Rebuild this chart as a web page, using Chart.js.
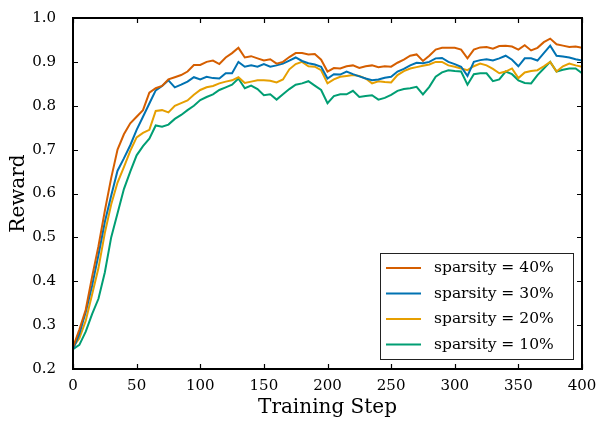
<!DOCTYPE html>
<html>
<head>
<meta charset="utf-8">
<script src="https://cdn.jsdelivr.net/npm/chart.js@4/dist/chart.umd.min.js"></script>
<style>
  html, body { margin:0; padding:0; background:#fff; }
  #wrap { width:598px; height:421px; }
</style>
</head>
<body>
<div id="wrap"><canvas id="chart" width="598" height="421"></canvas></div>
<script>
// Data (every 5 training steps)
const steps = [];
for (let s = 0; s <= 400; s += 5) steps.push(s);

const labels = ['sparsity = 40%', 'sparsity = 30%', 'sparsity = 20%', 'sparsity = 10%'];
const colors = ['#D55E00', '#0072B2', '#E69F00', '#009E73'];

const sparsity40 = [
    0.25, 0.29, 0.335, 0.41, 0.48, 0.56, 0.635, 0.70, 0.735, 0.76,
    0.775, 0.79, 0.83, 0.84, 0.845, 0.86, 0.865, 0.87, 0.878, 0.893,
    0.893, 0.90, 0.903, 0.895, 0.91, 0.92, 0.932, 0.91, 0.913, 0.908,
    0.903, 0.906, 0.896, 0.90, 0.911, 0.92, 0.92, 0.917, 0.918, 0.905,
    0.878, 0.886, 0.885, 0.89, 0.892, 0.886, 0.89, 0.892, 0.888, 0.89,
    0.889, 0.898, 0.905, 0.914, 0.917, 0.902, 0.914, 0.928, 0.932, 0.932,
    0.932, 0.928, 0.908, 0.928, 0.933, 0.934, 0.93, 0.936, 0.937, 0.935,
    0.928, 0.938, 0.926, 0.932, 0.945, 0.953, 0.94, 0.937, 0.934, 0.935,
    0.932
];
const sparsity30 = [
    0.245, 0.28, 0.33, 0.39, 0.46, 0.535, 0.595, 0.652, 0.68, 0.71,
    0.745, 0.775, 0.805, 0.835, 0.845, 0.858, 0.842, 0.848, 0.855, 0.865,
    0.86, 0.866, 0.863, 0.862, 0.874, 0.874, 0.90, 0.889, 0.892, 0.889,
    0.895, 0.889, 0.892, 0.896, 0.903, 0.91, 0.902, 0.897, 0.894, 0.889,
    0.862, 0.872, 0.871, 0.878, 0.872, 0.867, 0.862, 0.858, 0.86, 0.864,
    0.866, 0.878, 0.884, 0.892, 0.898, 0.897, 0.90, 0.908, 0.909, 0.90,
    0.895, 0.889, 0.868, 0.90, 0.904, 0.906, 0.903, 0.908, 0.914, 0.905,
    0.89, 0.908, 0.908, 0.903, 0.92, 0.937, 0.914, 0.912, 0.91, 0.906,
    0.903
];
const sparsity20 = [
    0.25, 0.27, 0.31, 0.37, 0.43, 0.51, 0.575, 0.625, 0.66, 0.697,
    0.728, 0.738, 0.745, 0.788, 0.79, 0.785, 0.80, 0.806, 0.812, 0.825,
    0.836, 0.842, 0.845, 0.851, 0.855, 0.858, 0.865, 0.852, 0.855, 0.858,
    0.858, 0.857, 0.853, 0.86, 0.883, 0.895, 0.90, 0.89, 0.889, 0.881,
    0.851, 0.86, 0.866, 0.868, 0.87, 0.868, 0.862, 0.851, 0.856, 0.854,
    0.853, 0.87, 0.879, 0.885, 0.888, 0.891, 0.894, 0.90, 0.90, 0.892,
    0.889, 0.885, 0.881, 0.89, 0.896, 0.892, 0.884, 0.874, 0.878, 0.885,
    0.863, 0.876, 0.879, 0.881, 0.89, 0.90, 0.878, 0.89, 0.896, 0.892,
    0.889
];
const sparsity10 = [
    0.245, 0.255, 0.285, 0.325, 0.36, 0.42, 0.50, 0.555, 0.61, 0.65,
    0.687, 0.708, 0.725, 0.755, 0.752, 0.757, 0.77, 0.779, 0.79, 0.80,
    0.813, 0.82, 0.826, 0.836, 0.842, 0.848, 0.862, 0.84, 0.846, 0.838,
    0.824, 0.826, 0.814, 0.826, 0.838, 0.848, 0.851, 0.856, 0.846, 0.836,
    0.806, 0.822, 0.826, 0.826, 0.834, 0.82, 0.822, 0.824, 0.814, 0.818,
    0.825, 0.834, 0.838, 0.84, 0.843, 0.826, 0.843, 0.866, 0.876, 0.881,
    0.879, 0.878, 0.848, 0.872, 0.874, 0.874, 0.856, 0.86, 0.878, 0.872,
    0.858, 0.852, 0.851, 0.87, 0.885, 0.90, 0.878, 0.882, 0.885, 0.885,
    0.874
];
const series = [sparsity40, sparsity30, sparsity20, sparsity10];

const xTicks = [0, 50, 100, 150, 200, 250, 300, 350, 400];
const yTicks = [0.2, 0.3, 0.4, 0.5, 0.6, 0.7, 0.8, 0.9, 1.0];

const serif = "'DejaVu Serif', serif";

// Frame, inward ticks and legend box drawn on top
const framePlugin = {
    id: 'frame',
    afterDraw(chart) {
        const { ctx, chartArea: a, scales } = chart;
        ctx.save();
        ctx.strokeStyle = '#000';
        ctx.lineWidth = 2;
        ctx.strokeRect(a.left, a.top, a.right - a.left, a.bottom - a.top);
        ctx.lineWidth = 1.2;
        ctx.beginPath();
        xTicks.forEach(v => {
            const x = Math.round(scales.x.getPixelForValue(v)) + 0.5;
            ctx.moveTo(x, a.bottom); ctx.lineTo(x, a.bottom - 5);
            ctx.moveTo(x, a.top); ctx.lineTo(x, a.top + 5);
        });
        yTicks.forEach(v => {
            const y = Math.round(scales.y.getPixelForValue(v)) + 0.5;
            ctx.moveTo(a.left, y); ctx.lineTo(a.left + 5, y);
            ctx.moveTo(a.right, y); ctx.lineTo(a.right - 5, y);
        });
        ctx.stroke();

        // legend
        const lx = a.right - 202, ly = a.bottom - 116, lw = 193, lh = 106;
        ctx.fillStyle = '#fff';
        ctx.fillRect(lx, ly, lw, lh);
        ctx.strokeStyle = '#222';
        ctx.lineWidth = 1;
        ctx.strokeRect(lx + 0.5, ly + 0.5, lw, lh);
        ctx.font = "15.5px " + serif;
        ctx.textBaseline = 'middle';
        labels.forEach((t, i) => {
            const y = ly + 15 + i * 25.5;
            ctx.strokeStyle = colors[i];
            ctx.lineWidth = 2;
            ctx.beginPath();
            ctx.moveTo(lx + 6, y); ctx.lineTo(lx + 41, y);
            ctx.stroke();
            ctx.fillStyle = '#000';
            ctx.fillText(t, lx + 54, y);
        });
        ctx.restore();
    }
};

new Chart(document.getElementById('chart'), {
    type: 'line',
    data: {
        labels: steps,
        datasets: series.map((d, i) => ({
            label: labels[i],
            data: d.map((v, j) => ({ x: steps[j], y: v })),
            borderColor: colors[i],
            borderWidth: 2,
            pointRadius: 0,
            tension: 0,
            fill: false
        }))
    },
    options: {
        responsive: false,
        animation: false,
        layout: { padding: { top: 14, right: 16, left: 0, bottom: 0 } },
        plugins: { legend: { display: false }, tooltip: { enabled: false } },
        scales: {
            x: {
                type: 'linear', min: 0, max: 400,
                afterFit: s => { s.height = 52; },
                afterBuildTicks: s => { s.ticks = xTicks.map(v => ({ value: v })); },
                grid: { display: false },
                border: { display: false },
                ticks: { color: '#000', font: { family: serif, size: 15 }, padding: 0, maxRotation: 0 },
                title: { display: true, text: 'Training Step', color: '#000', font: { family: serif, size: 20, weight: 'normal' }, padding: { top: 0, bottom: 1 } }
            },
            y: {
                min: 0.2, max: 1.0,
                afterFit: s => { s.width = 73; },
                afterBuildTicks: s => { s.ticks = yTicks.map(v => ({ value: v })); },
                grid: { display: false },
                border: { display: false },
                ticks: { color: '#000', font: { family: serif, size: 15 }, padding: 9, callback: v => v.toFixed(1) },
                title: { display: true, text: 'Reward', color: '#000', font: { family: serif, size: 20, weight: 'normal' }, padding: { top: 7, bottom: 0 } }
            }
        }
    },
    plugins: [framePlugin]
});
</script>
</body>
</html>
